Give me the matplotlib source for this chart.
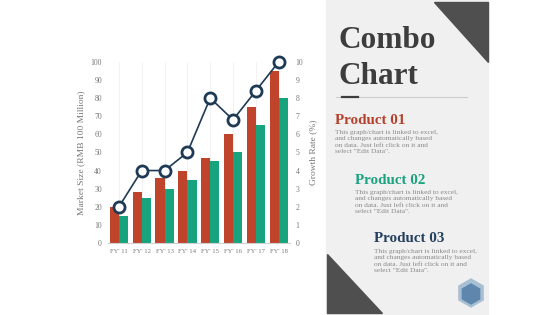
import matplotlib
matplotlib.use('Agg')
from matplotlib import pyplot as plt
from matplotlib.patches import Polygon, Rectangle, RegularPolygon
import numpy as np

years = ["FY' 11", "FY' 12", "FY' 13", "FY' 14", "FY' 15", "FY' 16", "FY' 17", "FY' 18"]
product_01 = [20, 28, 36, 40, 47, 60, 75, 95]
product_02 = [15, 25, 30, 35, 45, 50, 65, 80]
growth_rate = [2, 4, 4, 5, 8, 6.8, 8.4, 10]

titles = ['Product 01', 'Product 02', 'Product 03']
title_colors = ['#b5412c', '#1aa37f', '#24405e']
blurb = ('This graph/chart is linked to excel,\nand changes automatically based\n'
         'on data. Just left click on it and\nselect "Edit Data".')

RED = '#c0432c'
TEAL = '#17a37e'
NAVY = '#1f3a55'
GREY = '#777777'


def main():
    fig = plt.figure(figsize=(5.6, 3.15), dpi=100)
    fig.patch.set_facecolor('white')

    # side panel in figure pixels
    bg = fig.add_axes([0, 0, 1, 1])
    bg.set_xlim(0, 560)
    bg.set_ylim(315, 0)
    bg.axis('off')
    bg.add_patch(Rectangle((326, 0), 162, 315, color='#f0f0f0', zorder=0))
    bg.add_patch(Polygon([(434, 2), (488, 2), (488, 62)], color='#4f4f4f'))
    bg.add_patch(Polygon([(327, 254), (327, 313), (382, 313)], color='#4f4f4f'))
    bg.add_patch(RegularPolygon((471, 293), 6, radius=14, color='#a9bfd3'))
    bg.add_patch(RegularPolygon((471, 294), 6, radius=10, color='#5f87ad'))

    serif = ['Liberation Serif', 'DejaVu Serif']
    bg.text(339, 40, 'Combo', fontsize=22.5, fontweight='bold', color='#3d3d3d',
            family=serif, va='center', ha='left')
    bg.text(339, 76, 'Chart', fontsize=22.5, fontweight='bold', color='#3d3d3d',
            family=serif, va='center', ha='left')
    bg.plot([336, 467], [97, 97], color='#cccccc', lw=0.8)
    bg.plot([342, 358], [97, 97], color='#3d3d3d', lw=1.6)

    xs = [335, 355, 374]
    ys = [120, 180, 239]
    for x, y, t, c in zip(xs, ys, titles, title_colors):
        bg.text(x, y, t, fontsize=10.8, fontweight='bold', color=c, family=serif,
                va='center', ha='left')
        bg.text(x, y + 10, blurb, fontsize=5.3, color='#8a8a8a', family=serif,
                va='top', ha='left', linespacing=1.35)

    # chart
    ax = fig.add_axes([0.192, 0.2286, 0.326, 0.575])
    ax.set_facecolor('none')
    x = np.arange(len(years))
    w = 0.4
    ax.bar(x - w / 2, product_01, w, color=RED, zorder=2)
    ax.bar(x + w / 2, product_02, w, color=TEAL, zorder=2)
    ax.set_xlim(-0.5, len(years) - 0.5)
    ax.set_ylim(0, 100)
    ax.set_yticks(range(0, 101, 10))
    ax.set_xticks(x)
    ax.set_xticklabels(years, family=serif)
    for a in ax.get_yticklabels():
        a.set_family(serif)
    ax.tick_params(length=0, labelsize=5.5, colors=GREY, pad=4)
    ax.tick_params(axis='x', labelsize=4.8)
    for s in ['top', 'left', 'right']:
        ax.spines[s].set_visible(False)
    ax.spines['bottom'].set_color('#d0d0d0')
    ax.grid(axis='x', which='major', color='#f0f0f0', lw=0.6, zorder=0)
    ax.set_ylabel('Market Size (RMB 100 Million)', fontsize=6.8, color=GREY,
                  family=serif, labelpad=4)

    ax2 = ax.twinx()
    ax2.plot(x, growth_rate, color=NAVY, lw=1.2, marker='o', markersize=8,
             markerfacecolor='white', markeredgecolor=NAVY, markeredgewidth=2,
             zorder=5, clip_on=False)
    ax2.set_ylim(0, 10)
    ax2.set_yticks(range(0, 11))
    for a in ax2.get_yticklabels():
        a.set_family(serif)
    ax2.tick_params(length=0, labelsize=5.5, colors=GREY, pad=4)
    for s in ['top', 'left', 'right', 'bottom']:
        ax2.spines[s].set_visible(False)
    ax2.set_ylabel('Growth Rate (%)', fontsize=6.8, color=GREY, family=serif,
                   labelpad=4)

    plt.savefig('out.png', dpi=100)


if __name__ == '__main__':
    main()
